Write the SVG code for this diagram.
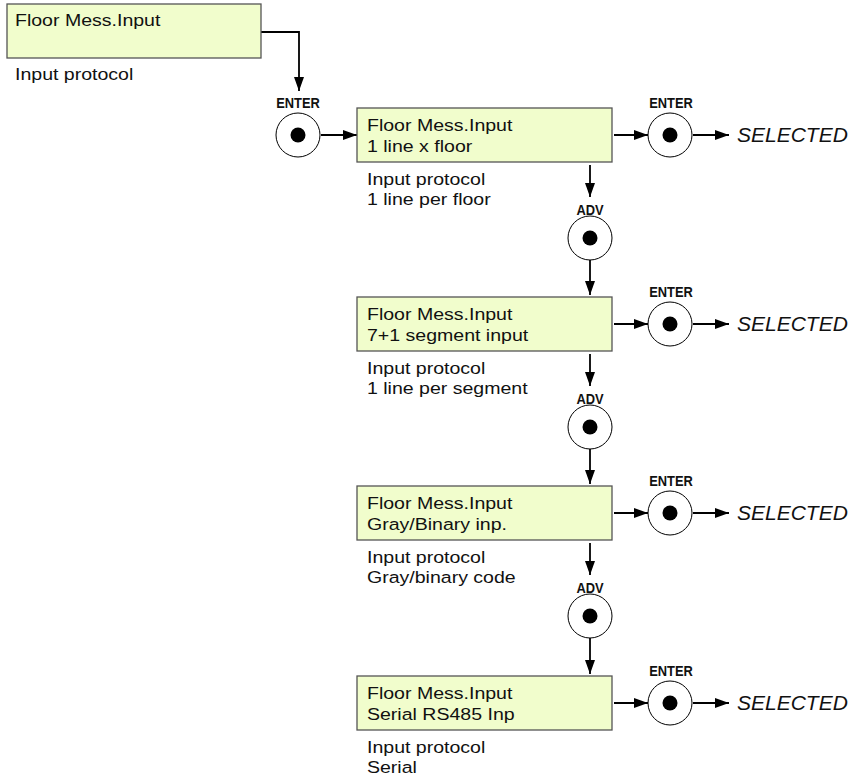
<svg xmlns="http://www.w3.org/2000/svg" width="854" height="777" viewBox="0 0 854 777">
  <defs>
    <marker id="arrow" markerUnits="userSpaceOnUse" markerWidth="14" markerHeight="10" refX="14" refY="5" orient="auto">
      <path d="M0,0 L14,5 L0,10 z" fill="#000"/>
    </marker>
    <g id="button">
      <circle cx="0" cy="0" r="22" fill="#fff" stroke="#000" stroke-width="1"/>
      <circle cx="0" cy="0" r="7.5" fill="#000"/>
    </g>
  </defs>
  <style>
    .box { fill: #f1fdcc; stroke: #555; stroke-width: 1.3; }
    .lcd, .note { font-family: "Liberation Sans", Arial, sans-serif; font-size: 17px; fill: #111;
                  transform-box: fill-box; transform-origin: 0 0; transform: scaleX(1.15); }
    .key { font-family: "Liberation Sans", Arial, sans-serif; font-size: 14px; font-weight: bold; fill: #111; text-anchor: middle;
           transform-box: fill-box; transform-origin: 50% 0; transform: scaleX(0.92); }
    .sel { font-family: "Liberation Sans", Arial, sans-serif; font-size: 21px; font-style: italic; fill: #111; }
    .wire { fill: none; stroke: #000; stroke-width: 1.8; marker-end: url(#arrow); }
  </style>

  <rect width="854" height="777" fill="#fff"/>

  <!-- connectors -->
  <g id="connectors">
    <path class="wire" d="M261,32 H299 V91"/>
    <path class="wire" d="M321,135 H357"/>
    <!-- option 1 -->
    <path class="wire" d="M614,135 H648"/>
    <path class="wire" d="M693,135 H729"/>
    <path class="wire" d="M590,165 V197"/>
    <path class="wire" d="M590,260 V295"/>
    <!-- option 2 -->
    <path class="wire" d="M614,324 H648"/>
    <path class="wire" d="M693,324 H729"/>
    <path class="wire" d="M590,354 V386"/>
    <path class="wire" d="M590,449 V484"/>
    <!-- option 3 -->
    <path class="wire" d="M614,513 H648"/>
    <path class="wire" d="M693,513 H729"/>
    <path class="wire" d="M590,543 V575"/>
    <path class="wire" d="M590,638 V674"/>
    <!-- option 4 -->
    <path class="wire" d="M614,703 H648"/>
    <path class="wire" d="M693,703 H729"/>
  </g>

  <!-- menu entry -->
  <g id="menu-entry">
    <rect class="box" x="7" y="4" width="254" height="54"/>
    <text class="lcd" x="15" y="26">Floor Mess.Input</text>
    <text class="note" x="15" y="80">Input protocol</text>
  </g>

  <g id="enter-0">
    <text class="key" x="298" y="108">ENTER</text>
    <use href="#button" x="298" y="135"/>
  </g>

  <!-- option 1 -->
  <g id="opt-1line">
    <rect class="box" x="357" y="108" width="255" height="54"/>
    <text class="lcd" x="367" y="131">Floor Mess.Input</text>
    <text class="lcd" x="367" y="152">1 line x floor</text>
    <text class="note" x="367" y="185">Input protocol</text>
    <text class="note" x="367" y="205">1 line per floor</text>
  </g>
  <g id="enter-1">
    <text class="key" x="671" y="108">ENTER</text>
    <use href="#button" x="670" y="135"/>
    <text class="sel" x="737" y="142">SELECTED</text>
  </g>
  <g id="adv-1">
    <text class="key" x="590" y="215">ADV</text>
    <use href="#button" x="590" y="238"/>
  </g>

  <!-- option 2 -->
  <g id="opt-7seg">
    <rect class="box" x="357" y="297" width="255" height="54"/>
    <text class="lcd" x="367" y="320">Floor Mess.Input</text>
    <text class="lcd" x="367" y="341">7+1 segment input</text>
    <text class="note" x="367" y="374">Input protocol</text>
    <text class="note" x="367" y="394">1 line per segment</text>
  </g>
  <g id="enter-2">
    <text class="key" x="671" y="297">ENTER</text>
    <use href="#button" x="670" y="324"/>
    <text class="sel" x="737" y="331">SELECTED</text>
  </g>
  <g id="adv-2">
    <text class="key" x="590" y="404">ADV</text>
    <use href="#button" x="590" y="427"/>
  </g>

  <!-- option 3 -->
  <g id="opt-gray">
    <rect class="box" x="357" y="486" width="255" height="54"/>
    <text class="lcd" x="367" y="509">Floor Mess.Input</text>
    <text class="lcd" x="367" y="530">Gray/Binary inp.</text>
    <text class="note" x="367" y="563">Input protocol</text>
    <text class="note" x="367" y="583">Gray/binary code</text>
  </g>
  <g id="enter-3">
    <text class="key" x="671" y="486">ENTER</text>
    <use href="#button" x="670" y="513"/>
    <text class="sel" x="737" y="520">SELECTED</text>
  </g>
  <g id="adv-3">
    <text class="key" x="590" y="593">ADV</text>
    <use href="#button" x="590" y="616"/>
  </g>

  <!-- option 4 -->
  <g id="opt-serial">
    <rect class="box" x="357" y="676" width="255" height="54"/>
    <text class="lcd" x="367" y="699">Floor Mess.Input</text>
    <text class="lcd" x="367" y="720">Serial RS485 Inp</text>
    <text class="note" x="367" y="753">Input protocol</text>
    <text class="note" x="367" y="773">Serial</text>
  </g>
  <g id="enter-4">
    <text class="key" x="671" y="676">ENTER</text>
    <use href="#button" x="670" y="703"/>
    <text class="sel" x="737" y="710">SELECTED</text>
  </g>
</svg>
